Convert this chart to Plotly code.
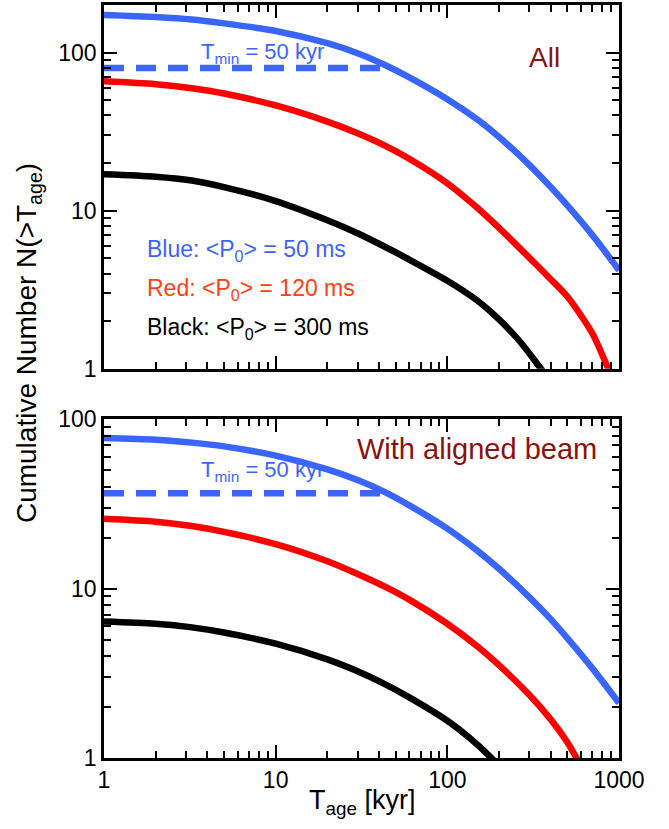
import plotly.graph_objects as go

# Cumulative number of sources older than T_age, for three mean initial spin periods
T_AGE = [1, 2, 3.25, 5, 10, 20, 30, 43, 60, 100, 150, 200, 300, 400, 500, 700, 1000]

ALL_BLUE = [173, 168, 162, 153, 137, 114.6, 99, 83.7, 69.7, 50.7, 37.6, 29.2, 19.5, 14.1, 10.8, 7.0, 4.2]
ALL_RED_T = [1, 2, 3.25, 5, 10, 20, 30, 43, 60, 100, 150, 200, 300, 400, 500, 700, 865, 955]
ALL_RED = [65.8, 63.1, 59.5, 55.1, 46.3, 36.6, 30.9, 25.9, 21.3, 14.9, 10.4, 7.78, 5.04, 3.68, 2.86, 1.67, 1.0, 0.78]
ALL_BLACK_T = [1, 2, 3.25, 5, 10, 20, 30, 43, 60, 100, 150, 200, 267, 346, 400]
ALL_BLACK = [17, 16.4, 15.5, 14.1, 11.5, 8.7, 7.2, 5.93, 4.9, 3.6, 2.69, 2.05, 1.47, 1.02, 0.83]

BEAM_BLUE = [77.4, 75.6, 72.7, 69.1, 60.9, 50.5, 43.7, 37.2, 31.0, 22.6, 16.7, 13.1, 8.9, 6.6, 5.1, 3.38, 2.11]
BEAM_RED_T = [1, 2, 3.25, 5, 10, 20, 30, 43, 60, 100, 150, 200, 300, 400, 500, 572, 645]
BEAM_RED = [25.8, 24.8, 23.4, 21.6, 18.3, 14.5, 12.2, 10.3, 8.6, 6.2, 4.55, 3.53, 2.36, 1.69, 1.24, 0.98, 0.77]
BEAM_BLACK_T = [1, 2, 3.25, 5, 10, 20, 30, 43, 60, 100, 134, 179, 219]
BEAM_BLACK = [6.4, 6.2, 5.9, 5.5, 4.73, 3.82, 3.25, 2.74, 2.28, 1.66, 1.32, 1.01, 0.81]

# Horizontal marker of N at T_min = 50 kyr for the blue model
TMIN_T = [1, 45]
TMIN_ALL = [80, 80]
TMIN_BEAM = [36.5, 36.5]

BLUE = "#3A66FF"
RED = "#FF0000"
BLACK = "#000000"
FONT = "Liberation Sans, Arial, Helvetica, sans-serif"

fig = go.Figure()

def curve(x, y, color, xaxis, yaxis, dash=None):
    fig.add_trace(go.Scatter(
        x=x, y=y, mode="lines", xaxis=xaxis, yaxis=yaxis,
        line=dict(color=color, width=6.5, shape="spline", smoothing=0.8,
                  dash=dash if dash else "solid"),
        showlegend=False, hoverinfo="skip"))

curve(T_AGE, ALL_BLUE, BLUE, "x", "y")
curve(ALL_RED_T, ALL_RED, RED, "x", "y")
curve(ALL_BLACK_T, ALL_BLACK, BLACK, "x", "y")
curve(TMIN_T, TMIN_ALL, BLUE, "x", "y", dash="20px,12px")

curve(T_AGE, BEAM_BLUE, BLUE, "x2", "y2")
curve(BEAM_RED_T, BEAM_RED, RED, "x2", "y2")
curve(BEAM_BLACK_T, BEAM_BLACK, BLACK, "x2", "y2")
curve(TMIN_T, TMIN_BEAM, BLUE, "x2", "y2", dash="20px,12px")

minor_vals = [v * d for d in (1, 10, 100) for v in range(2, 10)]
minor = dict(tickvals=minor_vals, ticks="inside", ticklen=7,
             tickwidth=2, tickcolor="black")

axis_common = dict(
    type="log", showgrid=False, zeroline=False, automargin=False,
    showline=True, linecolor="black", linewidth=2.5, mirror="allticks",
    ticks="inside", ticklen=13, tickwidth=2, tickcolor="black",
    tickfont=dict(family=FONT, size=23, color="black"),
    minor=minor,
)

fig.update_layout(
    width=669, height=829,
    margin=dict(l=104, r=50, t=5, b=71, autoexpand=False),
    paper_bgcolor="white", plot_bgcolor="white",
    font=dict(family=FONT, color="black"),
    xaxis=dict(axis_common, range=[0, 3], anchor="y", showticklabels=False,
               tickvals=[1, 10, 100, 1000]),
    yaxis=dict(axis_common, range=[0, 2.30103], domain=[0.517, 1.0], anchor="x",
               tickvals=[1, 10, 100], ticktext=["1", "10", "100"]),
    xaxis2=dict(axis_common, range=[0, 3], anchor="y2",
                tickvals=[1, 10, 100, 1000], ticktext=["1", "10", "100", "1000"]),
    yaxis2=dict(axis_common, range=[0, 2], domain=[0.0, 0.450], anchor="x2",
                tickvals=[1, 10, 100], ticktext=["1", "10", "100"]),
)

ann = []
def text(s, x, y, size, color, xref="paper", yref="paper", xanchor="center",
         yanchor="middle", angle=0):
    ann.append(dict(text=s, x=x, y=y, xref=xref, yref=yref, xanchor=xanchor,
                    yanchor=yanchor, showarrow=False, textangle=angle,
                    font=dict(family=FONT, size=size, color=color)))

text("All", 0.856, 0.857, 28, "#8B1010", "x domain", "y domain")
text("With aligned beam", 0.724, 0.913, 29, "#8B1010", "x2 domain", "y2 domain")
text("T<sub>min</sub> = 50 kyr", 0.308, 0.868, 22, BLUE, "x domain", "y domain")
text("T<sub>min</sub> = 50 kyr", 0.308, 0.848, 22, BLUE, "x2 domain", "y2 domain")
text("Blue: &lt;P<sub>0</sub>&gt; = 50 ms", 0.0796, 0.325, 23, BLUE,
     "x domain", "y domain", xanchor="left")
text("Red: &lt;P<sub>0</sub>&gt; = 120 ms", 0.0796, 0.218, 23, "#FF4010",
     "x domain", "y domain", xanchor="left")
text("Black: &lt;P<sub>0</sub>&gt; = 300 ms", 0.0796, 0.111, 23, BLACK,
     "x domain", "y domain", xanchor="left")
text("Cumulative Number N(&gt;T<sub>age</sub>)", -0.1476, 0.551, 28, BLACK, angle=-90)
text("T<sub>age</sub> [kyr]", 0.501, -0.058, 27, BLACK)

fig.update_layout(annotations=ann)

fig.write_html("out.html")
